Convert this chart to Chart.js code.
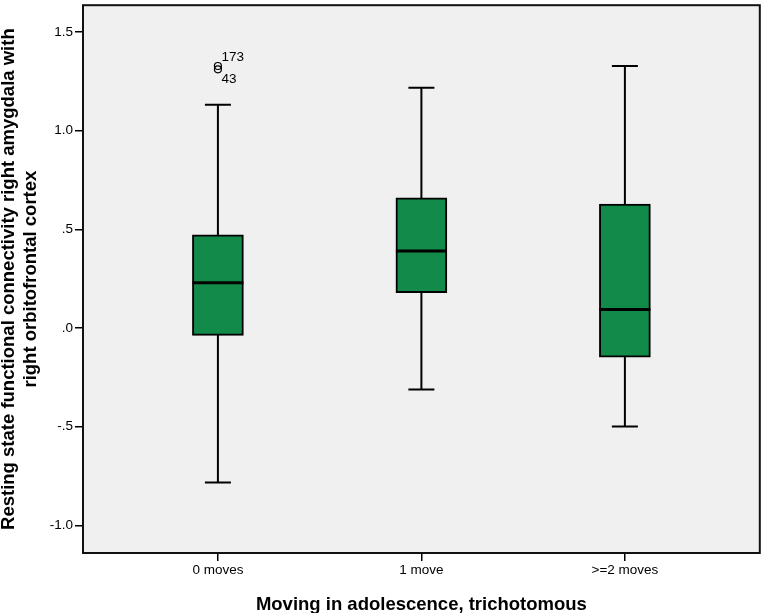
<!DOCTYPE html>
<html>
<head>
<meta charset="utf-8">
<script src="https://cdn.jsdelivr.net/npm/chart.js@4.4.0/dist/chart.umd.min.js"></script>
<style>
  body { margin: 0; background: #fff; }
  #wrap { width: 765px; height: 613px; }
</style>
</head>
<body>
<div id="wrap"><canvas id="boxChart"></canvas></div>
<script>
// Box plot values
const categories = ['0 moves', '1 move', '>=2 moves'];
const whiskerLow = [-0.783, -0.311, -0.499];
const quartile1 = [-0.037, 0.179, -0.148];
const medians = [0.230, 0.391, 0.094];
const quartile3 = [0.472, 0.660, 0.628];
const whiskerHigh = [1.132, 1.218, 1.328];

// outliers (group index, value, case id)
const outlierGroup = [0, 0];
const outlierValues = [1.328, 1.311];
const outlierIds = ['173', '43'];

const yTicks = [-1.0, -0.5, 0, 0.5, 1.0, 1.5];
const yTickLabels = ['-1.0', '-.5', '.0', '.5', '1.0', '1.5'];

const FONT = 'Liberation Sans, Arial, sans-serif';

// background, whiskers, medians, case labels and frame
const boxParts = {
    id: 'boxParts',
    beforeDraw(chart) {
        const { ctx, chartArea: a } = chart;
        ctx.save();
        ctx.fillStyle = '#f0f0f0';
        ctx.fillRect(a.left, a.top, a.right - a.left, a.bottom - a.top);
        ctx.restore();
    },
    beforeDatasetsDraw(chart) {
        const { ctx, scales: { x, y } } = chart;
        ctx.save();
        ctx.strokeStyle = '#000';
        ctx.lineWidth = 2;
        categories.forEach((c, i) => {
            const px = x.getPixelForValue(i);
            ctx.beginPath();
            ctx.moveTo(px, y.getPixelForValue(whiskerLow[i]));
            ctx.lineTo(px, y.getPixelForValue(whiskerHigh[i]));
            [whiskerLow[i], whiskerHigh[i]].forEach(v => {
                const py = y.getPixelForValue(v);
                ctx.moveTo(px - 13, py);
                ctx.lineTo(px + 13, py);
            });
            ctx.stroke();
        });
        ctx.restore();
    },
    afterDatasetsDraw(chart) {
        const { ctx, scales: { y } } = chart;
        ctx.save();
        // median lines across each box
        ctx.strokeStyle = '#000';
        ctx.lineWidth = 3;
        chart.getDatasetMeta(0).data.forEach((bar, i) => {
            const py = y.getPixelForValue(medians[i]);
            ctx.beginPath();
            ctx.moveTo(bar.x - bar.width / 2, py);
            ctx.lineTo(bar.x + bar.width / 2, py);
            ctx.stroke();
        });
        // case numbers next to the outliers
        ctx.fillStyle = '#000';
        ctx.font = '13.5px ' + FONT;
        ctx.textAlign = 'left';
        ctx.textBaseline = 'middle';
        chart.getDatasetMeta(1).data.forEach((pt, k) => {
            const dy = k === 0 ? -9 : 10;
            ctx.fillText(outlierIds[k], pt.x + 3.5, pt.y + dy);
        });
        ctx.restore();
    },
    afterDraw(chart) {
        const { ctx, chartArea: a } = chart;
        ctx.save();
        ctx.strokeStyle = '#111';
        ctx.lineWidth = 2;
        ctx.strokeRect(a.left, a.top, a.right - a.left, a.bottom - a.top);
        ctx.restore();
    }
};

const content = document.getElementById('boxChart').getContext('2d');
new Chart(content, {
    type: 'bar',
    data: {
        datasets: [{
            label: 'IQR',
            data: categories.map((c, i) => ({ x: i, y: [quartile1[i], quartile3[i]] })),
            backgroundColor: '#128a4a',
            borderColor: '#000',
            borderWidth: 2,
            borderSkipped: false,
            barThickness: 51,
            grouped: false
        }, {
            type: 'scatter',
            label: 'Outliers',
            data: outlierValues.map((v, k) => ({ x: outlierGroup[k], y: v })),
            pointStyle: 'circle',
            pointRadius: 3.5,
            borderColor: '#000',
            borderWidth: 1.2,
            backgroundColor: 'rgba(0,0,0,0)'
        }]
    },
    options: {
        responsive: true,
        maintainAspectRatio: false,
        animation: false,
        layout: { padding: { top: 3, right: 5, left: 0, bottom: 0 } },
        plugins: {
            legend: { display: false },
            tooltip: { enabled: false }
        },
        scales: {
            x: {
                type: 'linear',
                min: -0.663,
                max: 2.663,
                offset: false,
                afterBuildTicks: scale => { scale.ticks = categories.map((c, i) => ({ value: i })); },
                afterFit: scale => { scale.height = 60; scale.paddingLeft = 0; scale.paddingRight = 0; },
                grid: { offset: false, drawOnChartArea: false, drawTicks: true, tickLength: 8, color: '#000', lineWidth: 1.5 },
                border: { display: false },
                ticks: {
                    autoSkip: false,
                    maxRotation: 0,
                    padding: 1,
                    color: '#000',
                    font: { family: FONT, size: 13.5 },
                    callback: (v, i) => categories[i]
                },
                title: {
                    display: true,
                    text: 'Moving in adolescence, trichotomous',
                    color: '#000',
                    padding: { top: 0, bottom: 0 },
                    font: { family: FONT, size: 18.5, weight: 'bold', lineHeight: 0.9 }
                }
            },
            y: {
                min: -1.14,
                max: 1.636,
                afterBuildTicks: scale => { scale.ticks = yTicks.map(v => ({ value: v })); },
                afterFit: scale => { scale.width = 83; scale.paddingTop = 0; scale.paddingBottom = 0; },
                grid: { drawOnChartArea: false, drawTicks: true, tickLength: 8, color: '#000', lineWidth: 1.5 },
                border: { display: false },
                ticks: {
                    padding: 2,
                    color: '#000',
                    font: { family: FONT, size: 13.5 },
                    callback: (v, i) => yTickLabels[i]
                },
                title: {
                    display: true,
                    text: ['Resting state functional connectivity right amygdala with', 'right orbitofrontal cortex'],
                    color: '#000',
                    padding: { top: -2, bottom: 0 },
                    font: { family: FONT, size: 18.5, weight: 'bold', lineHeight: 1.2 }
                }
            }
        }
    },
    plugins: [boxParts]
});
</script>
</body>
</html>
